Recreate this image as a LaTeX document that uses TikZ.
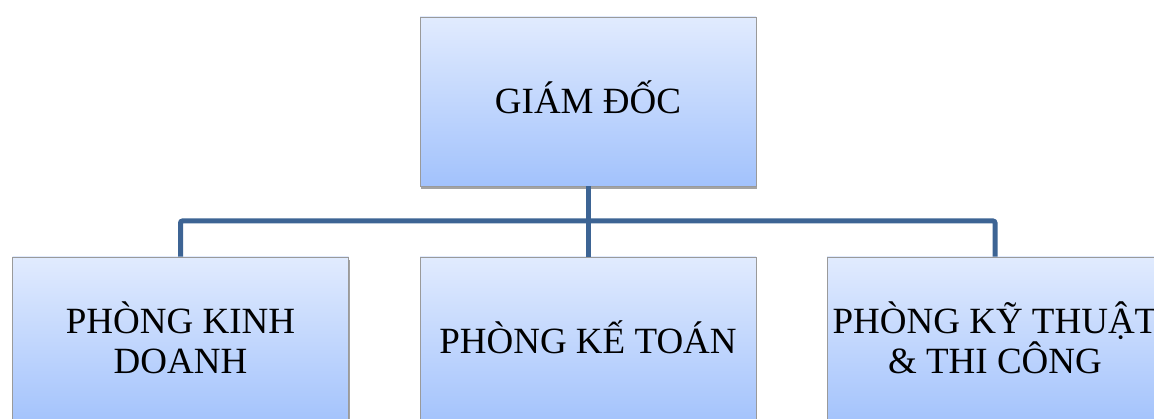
\documentclass[tikz,border=0pt]{standalone}
\usepackage{fontspec}
\setmainfont{Liberation Serif}
\usetikzlibrary{shadows}
\definecolor{boxtop}{HTML}{E1EBFE}
\definecolor{boxbot}{HTML}{A2C2FC}
\definecolor{boxedge}{HTML}{9A9A9A}
\definecolor{linkblue}{HTML}{3D6494}
\tikzset{
  unit/.style={rectangle, minimum width=336pt, minimum height=169pt,
    top color=boxtop, bottom color=boxbot, draw=boxedge, line width=0.8pt,
    align=center, inner sep=0pt, text depth=8pt,
    font=\fontsize{37}{40}\selectfont,
    drop shadow={shadow xshift=1pt, shadow yshift=-3pt, opacity=0.45, fill=black!80}},
  link/.style={draw=linkblue, line width=5pt, rounded corners=2pt}
}
\begin{document}
\begin{tikzpicture}[x=1pt, y=1pt]
  \useasboundingbox (0,0) rectangle (1154,419);
  \clip (0,0) rectangle (1154,419);
  \fill[white] (0,0) rectangle (1154,419);
  % director
  \node[unit] (gd) at (588,317.5) {GIÁM ĐỐC};
  % departments
  \node[unit] (kd) at (180.5,77.5) {PHÒNG KINH\\DOANH};
  \node[unit] (kt) at (588,77.5) {PHÒNG KẾ TOÁN};
  \node[unit] (ky) at (995,77.5) {PHÒNG KỸ THUẬT\\\& THI CÔNG};
  % branch point on the bus line
  \coordinate (bus) at (588,198);
  % connectors
  \path[link] (gd.south) -- (kt.north);
  \path[link] (kd.north) |- (bus) -| (ky.north);
\end{tikzpicture}
\end{document}
